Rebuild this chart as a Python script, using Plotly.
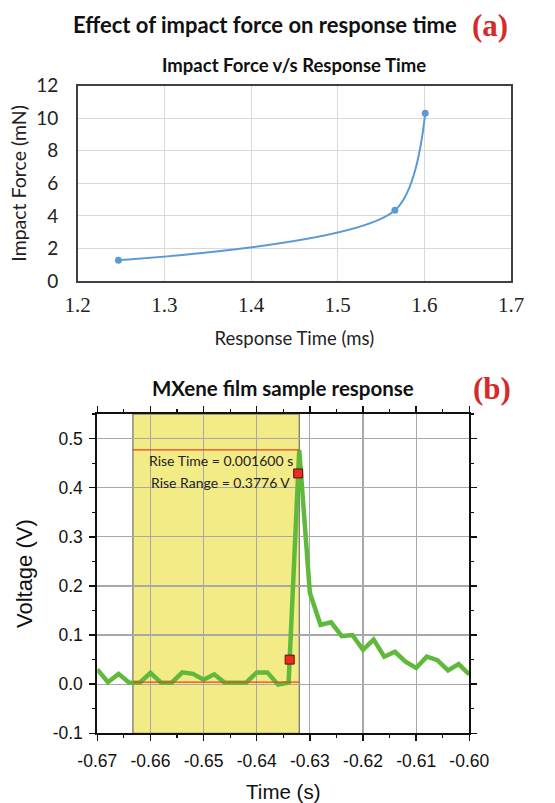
import plotly.graph_objects as go

W, H = 555, 803

# ---- Panel (a) data ----
resp_time_ms = [1.247, 1.566, 1.601]
impact_force_mN = [1.27, 4.34, 10.3]
a_xticks = [1.2, 1.3, 1.4, 1.5, 1.6, 1.7]
a_yticks = [0, 2, 4, 6, 8, 10, 12]

# ---- Panel (b) data ----
time_s = [-0.670, -0.668, -0.666, -0.664, -0.662, -0.660, -0.658, -0.656, -0.654,
          -0.652, -0.650, -0.648, -0.646, -0.644, -0.642, -0.640, -0.638, -0.636,
          -0.634, -0.632, -0.630, -0.628, -0.626, -0.624, -0.622, -0.620, -0.618,
          -0.616, -0.614, -0.612, -0.610, -0.608, -0.606, -0.604, -0.602, -0.600]
voltage_V = [0.030, 0.004, 0.021, 0.003, 0.003, 0.023, 0.003, 0.003, 0.024,
             0.021, 0.009, 0.020, 0.003, 0.003, 0.003, 0.024, 0.024, -0.001,
             0.003, 0.477, 0.186, 0.121, 0.126, 0.098, 0.100, 0.070, 0.091,
             0.056, 0.066, 0.046, 0.033, 0.056, 0.049, 0.028, 0.041, 0.020]
rise_pts_t = [-0.6338, -0.6322]
rise_pts_v = [0.050, 0.429]
region_t = [-0.6633, -0.6320]
rise_levels = [0.004, 0.477]
rise_labels = ["Rise Time = 0.001600 s", "Rise Range = 0.3776 V"]
b_xticks = [-0.67, -0.66, -0.65, -0.64, -0.63, -0.62, -0.61, -0.60]
b_xticklabels = ["-0.67", "-0.66", "-0.65", "-0.64", "-0.63", "-0.62", "-0.61", "-0.60"]
b_yticks = [-0.1, 0.0, 0.1, 0.2, 0.3, 0.4, 0.5]
b_yticklabels = ["-0.1", "0.0", "0.1", "0.2", "0.3", "0.4", "0.5"]


def py(p):
    return 1 - p / H


def px(p):
    return p / W


CAL = "Lato, 'Open Sans', sans-serif"
ARIAL = "'Liberation Sans', Arial, sans-serif"
SERIF = "'Liberation Serif', 'Times New Roman', serif"

fig = go.Figure()

fig.add_trace(go.Scatter(
    x=resp_time_ms, y=impact_force_mN, mode="lines+markers",
    line=dict(color="#5b9bd5", width=2, shape="spline", smoothing=0.8),
    marker=dict(color="#5b9bd5", size=7),
    xaxis="x", yaxis="y", showlegend=False, hoverinfo="skip"))

fig.add_trace(go.Scatter(
    x=time_s, y=voltage_V, mode="lines",
    line=dict(color="#5fba3c", width=4.5),
    xaxis="x2", yaxis="y2", showlegend=False, hoverinfo="skip"))

fig.add_trace(go.Scatter(
    x=rise_pts_t, y=rise_pts_v, mode="markers",
    marker=dict(color="#ee2a24", size=9, symbol="square",
                line=dict(color="#5a1010", width=1)),
    xaxis="x2", yaxis="y2", showlegend=False, hoverinfo="skip"))

# yellow rise region
fig.add_shape(type="rect", xref="x2", yref="y2",
              x0=region_t[0], x1=region_t[1], y0=-0.1, y1=0.55,
              fillcolor="#f3eb86", line=dict(color="#555555", width=1), layer="below")
for lvl in rise_levels:
    fig.add_shape(type="line", xref="x2", yref="y2",
                  x0=region_t[0], x1=region_t[1], y0=lvl, y1=lvl,
                  line=dict(color="#f0401e", width=1.2))

fig.update_layout(
    width=W, height=H,
    margin=dict(l=0, r=0, t=0, b=0, autoexpand=False),
    paper_bgcolor="white", plot_bgcolor="white",
    xaxis=dict(domain=[px(77.7), px(511)], anchor="y", automargin=False,
               range=[1.2, 1.7], tickvals=a_xticks, tickformat=".1f",
               showgrid=True, gridcolor="#d9d9d9", gridwidth=1,
               zeroline=False, showline=True, linecolor="#404040", linewidth=1.5,
               mirror=True, ticks="", ticklabelstandoff=4,
               tickfont=dict(family=SERIF, size=21, color="#222222"),
               title=dict(text="Response Time (ms)", standoff=16,
                          font=dict(family=CAL, size=18.5, color="#222222"))),
    yaxis=dict(domain=[py(281), py(85.7)], anchor="x", automargin=False,
               range=[0, 12], tickvals=a_yticks, ticklabelstandoff=14,
               showgrid=True, gridcolor="#d9d9d9", gridwidth=1,
               zeroline=False, showline=True, linecolor="#404040", linewidth=1.5,
               mirror=True, ticks="",
               tickfont=dict(family=CAL, size=19, color="#222222"),
               title=dict(text="Impact Force (mN)", standoff=4,
                          font=dict(family=CAL, size=19.5, color="#222222"))),
    xaxis2=dict(domain=[px(97.3), px(469.3)], anchor="y2", automargin=False,
                range=[-0.67, -0.60], tickvals=b_xticks, ticktext=b_xticklabels,
                showgrid=True, gridcolor="#a8a8a8", gridwidth=1.2,
                zeroline=False, showline=True, linecolor="#111111", linewidth=2,
                mirror="ticks", ticks="outside", ticklen=6, tickwidth=1.5,
                tickcolor="#111111", ticklabelstandoff=5,
                minor=dict(dtick=0.005, tick0=-0.67, ticks="outside", ticklen=3,
                           tickwidth=1.2, tickcolor="#111111", showgrid=False),
                tickfont=dict(family=ARIAL, size=17.5, color="#111111"),
                title=dict(text="Time (s)", standoff=16,
                           font=dict(family=ARIAL, size=20.5, color="#111111"))),
    yaxis2=dict(domain=[py(733.3), py(414)], anchor="x2", automargin=False,
                range=[-0.1, 0.55], tickvals=b_yticks, ticktext=b_yticklabels,
                showgrid=True, gridcolor="#a8a8a8", gridwidth=1.2,
                zeroline=False, showline=True, linecolor="#111111", linewidth=2,
                mirror="ticks", ticks="outside", ticklen=6, tickwidth=1.5,
                tickcolor="#111111", ticklabelstandoff=3,
                minor=dict(dtick=0.05, tick0=0, ticks="outside", ticklen=3,
                           tickwidth=1.2, tickcolor="#111111", showgrid=False),
                tickfont=dict(family=ARIAL, size=17.5, color="#111111"),
                title=dict(text="Voltage (V)", standoff=14,
                           font=dict(family=ARIAL, size=22, color="#111111"))),
)

ann = [
    dict(text="<b>Effect of impact force on response time</b>", x=px(265), y=py(24),
         font=dict(family=CAL, size=22, color="#111111")),
    dict(text="<b>(a)</b>", x=px(490), y=py(25),
         font=dict(family=SERIF, size=31, color="#d42b2b")),
    dict(text="<b>Impact Force v/s Response Time</b>", x=px(294), y=py(65),
         font=dict(family=CAL, size=18.5, color="#111111")),
    dict(text="<b>MXene film sample response</b>", x=px(282.5), y=py(388),
         font=dict(family=CAL, size=20.5, color="#111111")),
    dict(text="<b>(b)</b>", x=px(492), y=py(389),
         font=dict(family=SERIF, size=31, color="#d42b2b")),
]
for a in ann:
    a.update(xref="paper", yref="paper", showarrow=False, xanchor="center", yanchor="middle")
    fig.add_annotation(**a)

for lbl, yv in zip(rise_labels, [0.455, 0.410]):
    fig.add_annotation(text=lbl, x=-0.6468, y=yv, xref="x2", yref="y2",
                       showarrow=False, xanchor="center", yanchor="middle",
                       font=dict(family=CAL, size=14, color="#222222"))

fig.write_html("out.html", config={"displayModeBar": False, "staticPlot": True},
               post_script="document.body.style.margin='0px';document.body.style.overflow='hidden';")
